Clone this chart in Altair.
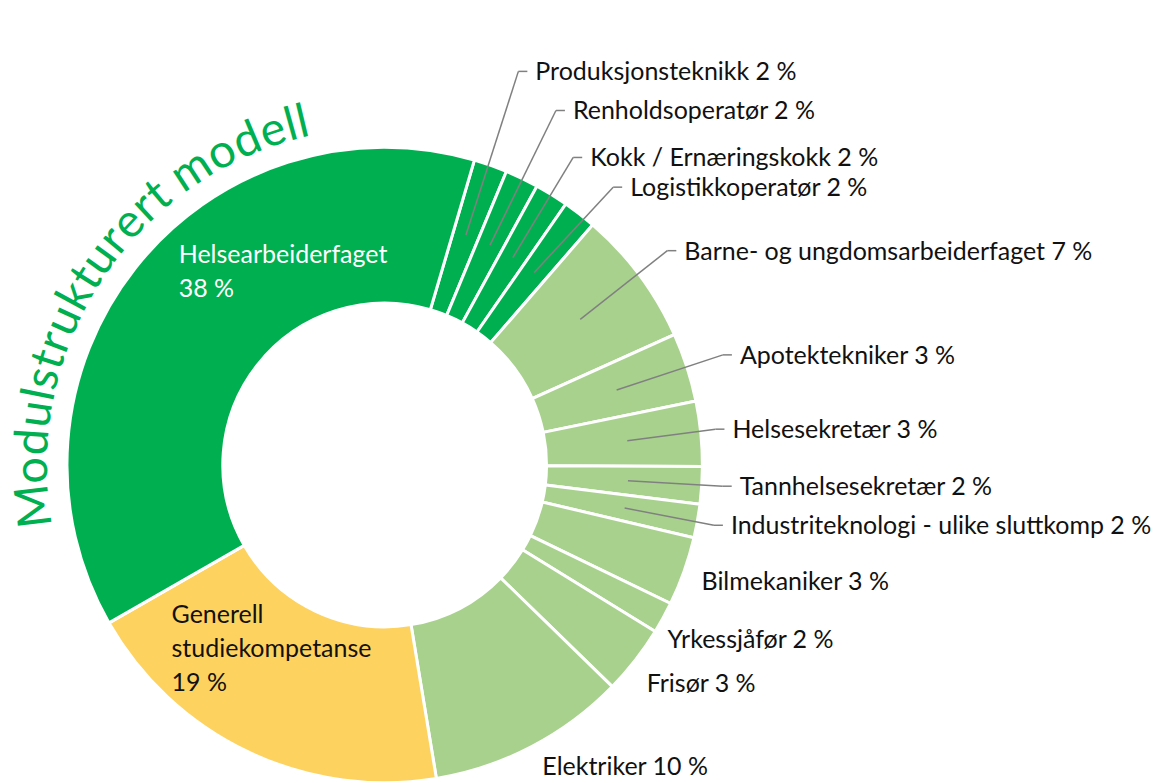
import math
import altair as alt
import pandas as pd

# ---------------- data ----------------
names = [
    "Produksjonsteknikk", "Renholdsoperatør", "Kokk / Ernæringskokk", "Logistikkoperatør",
    "Barne- og ungdomsarbeiderfaget", "Apotektekniker", "Helsesekretær", "Tannhelsesekretær",
    "Industriteknologi - ulike sluttkomp", "Bilmekaniker", "Yrkessjåfør", "Frisør",
    "Elektriker", "Generell studiekompetanse", "Helsearbeiderfaget",
]
shares = [1.7, 1.7, 1.7, 1.7, 6.9, 3.5, 3.3, 1.9, 1.7, 3.5, 1.6, 3.5, 10.1, 19.3, 37.8]
pct_labels = ["2 %", "2 %", "2 %", "2 %", "7 %", "3 %", "3 %", "2 %", "2 %", "3 %", "2 %", "3 %",
              "10 %", "19 %", "38 %"]
groups = ["modul"] * 4 + ["annet"] * 9 + ["gsk"] + ["modul"]
title_text = "Modulstrukturert modell"

# ---------------- layout / style ----------------
W, H = 1155, 767
CX, CY = 376, 457
R_OUT, R_IN = 318, 162
START_DEG = 16.4
DARK, LIGHT, YELLOW = "#00B050", "#A9D18E", "#FED25F"
group_color = {"modul": DARK, "annet": LIGHT, "gsk": YELLOW}
FONT = "Lato"
FS = 25
# leader labels: (angle nudge deg, radius) of the kink point
kink = [(-0.7, 416), (0.2, 394), (-0.2, 361), (1.6, 360), (-0.5, 355),
        (-0.1, 356), (-0.5, 333), (-0.1, 339), (0.2, 335)]
# labels without leader: (angle nudge deg, radius)
plain = {9: (0.7, 338), 10: (3.0, 333), 11: (2.0, 342), 12: (0.0, 341)}
# inner labels (first line anchor): (angle nudge deg, radius, color)
inner = {13: (29.4, 261, "#111111"), 14: (7.2, 294, "#FFFFFF")}


def polar(r, deg):
    a = math.radians(deg)
    return CX + r * math.sin(a), CY - r * math.cos(a)


total = sum(shares)
df = pd.DataFrame({"name": names, "share": shares, "idx": range(len(names))})
df["color"] = [group_color[g] for g in groups]

cum = 0.0
mids = []
for s in shares:
    a0 = START_DEG + cum / total * 360
    cum += s
    a1 = START_DEG + cum / total * 360
    mids.append((a0 + a1) / 2)

segs, labels = [], []
for i, name in enumerate(names):
    m = mids[i]
    if i < len(kink):
        nd, kr = kink[i]
        x0, y0 = polar(244, m)
        xk, yk = polar(kr, m + nd)
        segs.append({"x": x0, "y": y0, "x2": xk, "y2": yk})
        segs.append({"x": xk, "y": yk, "x2": xk + 9, "y2": yk})
        labels.append({"x": xk + 17, "y": yk + 1, "t": f"{name} {pct_labels[i]}", "c": "#111111"})
    elif i in plain:
        nd, r = plain[i]
        x, y = polar(r, m + nd)
        labels.append({"x": x, "y": y, "t": f"{name} {pct_labels[i]}", "c": "#111111"})
seg_df = pd.DataFrame(segs)
lab_df = pd.DataFrame(labels)

inner_rows = []
for i, (nd, r, c) in inner.items():
    x, y = polar(r, mids[i] + nd)
    if i == 13:
        t = "Generell\nstudiekompetanse\n" + pct_labels[i]
    else:
        t = names[i] + "\n" + pct_labels[i]
    inner_rows.append({"x": x, "y": y, "t": t, "c": c})
inner_df = pd.DataFrame(inner_rows)

# curved title: approximate glyph advance widths (em), spread over the arc
cw = {"M": 0.86, "o": 0.56, "d": 0.57, "u": 0.55, "l": 0.24, "s": 0.42, "t": 0.36,
      "r": 0.38, "k": 0.51, "e": 0.52, "m": 0.83, " ": 0.22}
T_FS, T_R, T_START, T_END = 47, 338, 259.8, 347.5
widths = [cw.get(ch, 0.5) for ch in title_text]
tw = sum(widths)
title_rows = []
pos = 0.0
for ch, w in zip(title_text, widths):
    ang = T_START + (pos + w / 2) / tw * (T_END - T_START)
    x, y = polar(T_R, ang)
    title_rows.append({"x": x, "y": y, "ch": ch, "rot": ang % 360})
    pos += w
title_df = pd.DataFrame(title_rows)

start_rad = math.radians(START_DEG)
arcs = alt.Chart(df).mark_arc(outerRadius=R_OUT, innerRadius=R_IN, stroke="white", strokeWidth=3).encode(
    theta=alt.Theta("share:Q", stack=True,
                    scale=alt.Scale(domain=[0, total], nice=False, range=[start_rad, start_rad + 2 * math.pi])),
    order=alt.Order("idx:Q"),
    color=alt.Color("color:N", scale=None),
    x=alt.value(CX), y=alt.value(CY),
)

leaders = alt.Chart(seg_df).mark_rule(color="#808080", strokeWidth=1.5).encode(
    x=alt.X("x:Q", scale=None), y=alt.Y("y:Q", scale=None),
    x2="x2:Q", y2="y2:Q",
)

text_labels = alt.Chart(lab_df).mark_text(align="left", baseline="middle", font=FONT, fontSize=FS).encode(
    x=alt.X("x:Q", scale=None), y=alt.Y("y:Q", scale=None), text="t:N",
    color=alt.Color("c:N", scale=None),
)

inner_labels = alt.Chart(inner_df).mark_text(align="left", baseline="middle", font=FONT, fontSize=FS,
                                             lineBreak="\n", lineHeight=34).encode(
    x=alt.X("x:Q", scale=None), y=alt.Y("y:Q", scale=None), text="t:N",
    color=alt.Color("c:N", scale=None),
)

title = alt.Chart(title_df).mark_text(align="center", baseline="alphabetic", font=FONT, fontSize=T_FS,
                                      fontWeight=400, color=DARK).encode(
    x=alt.X("x:Q", scale=None), y=alt.Y("y:Q", scale=None), text="ch:N",
    angle=alt.Angle("rot:Q", scale=None),
)

chart = alt.layer(arcs, leaders, text_labels, inner_labels, title).properties(
    width=W, height=H, padding=0
).configure_view(stroke=None)

chart.save("out.html", embed_options={"renderer": "svg", "actions": False})
